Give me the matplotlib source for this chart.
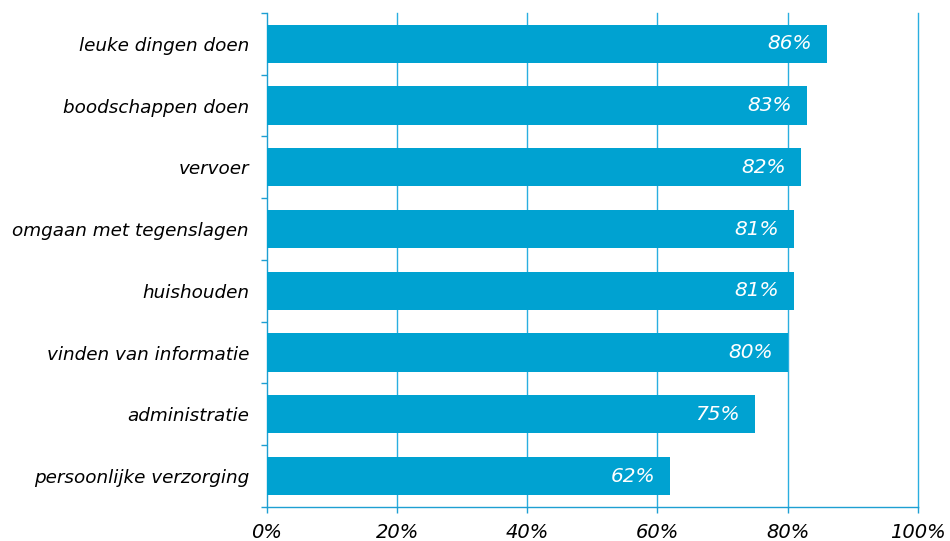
import numpy as np
import matplotlib
matplotlib.use("Agg")
import matplotlib.pyplot as plt

categories = ["leuke dingen doen", "boodschappen doen", "vervoer",
              "omgaan met tegenslagen", "huishouden", "vinden van informatie",
              "administratie", "persoonlijke verzorging"]
values = [86, 83, 82, 81, 81, 80, 75, 62]
xticks = [0, 20, 40, 60, 80, 100]
xticklabels = ["0%", "20%", "40%", "60%", "80%", "100%"]

bar_color = "#00A2D1"
axis_color = "#1E9FD2"
grid_color = "#2AAEE0"

plt.rcParams["font.family"] = "DejaVu Sans"

fig = plt.figure(figsize=(9.5, 5.41), dpi=100)
ax = fig.add_axes([0.281, 0.063, 0.685, 0.913])

n = len(categories)
ypos = np.arange(n)[::-1]
ax.barh(ypos, values, height=0.62, color=bar_color, zorder=3)

for y, v in zip(ypos, values):
    ax.text(v - 2.3, y, f"{v}%", ha="right", va="center", color="white",
            fontsize=14.5, style="italic", zorder=4)

ax.set_xlim(0, 100)
ax.set_ylim(-0.5, n - 0.5)
ax.set_xticks(xticks)
ax.set_xticklabels(xticklabels, fontsize=14, style="italic")
ax.set_yticks(ypos)
ax.set_yticklabels(categories, fontsize=13.25, style="italic")
ax.tick_params(axis="y", length=0, pad=13)
ax.set_yticks(np.arange(-0.5, n, 1.0), minor=True)
ax.tick_params(axis="y", which="minor", length=4, color=axis_color, width=1)
ax.tick_params(axis="x", length=4.5, color=axis_color, width=1, pad=7)

for x in xticks[1:]:
    ax.axvline(x, color=grid_color, lw=1, zorder=1, clip_on=False)

for s in ["top", "right"]:
    ax.spines[s].set_visible(False)
for s in ["left", "bottom"]:
    ax.spines[s].set_color(axis_color)
    ax.spines[s].set_linewidth(1)

fig.savefig("out.png", dpi=100)
